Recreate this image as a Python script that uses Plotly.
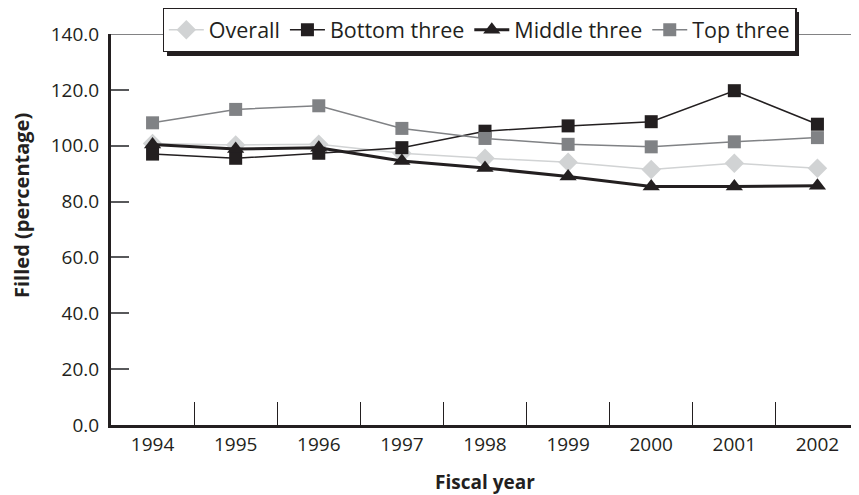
import plotly.graph_objects as go

# Data
years = ["1994", "1995", "1996", "1997", "1998", "1999", "2000", "2001", "2002"]
overall = [100.8, 100.3, 100.5, 97.3, 95.5, 94.1, 91.5, 93.7, 91.9]
bottom_three = [97.0, 95.5, 97.3, 99.3, 105.2, 107.1, 108.6, 119.7, 107.7]
middle_three = [100.4, 98.8, 99.3, 94.5, 92.0, 89.0, 85.4, 85.4, 85.7]
top_three = [108.2, 113.0, 114.3, 106.2, 102.6, 100.5, 99.6, 101.4, 102.9]
y_ticks = [0, 20, 40, 60, 80, 100, 120, 140]

FONT = "Open Sans"
INK = "#231f20"

series = [
    ("Overall", overall, "#d1d3d4", 1.5, "diamond", 15),
    ("Bottom three", bottom_three, INK, 1.5, "square", 13),
    ("Middle three", middle_three, INK, 3, "triangle-up", 15),
    ("Top three", top_three, "#808285", 1.5, "square", 13),
]

fig = go.Figure()
for name, vals, color, width, symbol, size in series:
    fig.add_trace(go.Scatter(
        x=years, y=vals, name=name, mode="lines+markers",
        line=dict(color=color, width=width),
        marker=dict(symbol=symbol, size=size, color=color, line=dict(width=0)),
    ))

# thin line along the top of the plot (140 level)
fig.add_shape(type="line", xref="paper", yref="y", x0=0, x1=1, y0=140, y1=140,
              line=dict(color="#58595b", width=1.5), layer="below")
# drop shadow behind the legend box
fig.add_shape(type="rect", xref="paper", yref="paper",
              x0=0.0749, x1=0.9198, y0=0.9437, y1=1.0563,
              fillcolor=INK, line=dict(width=0), layer="above")

# y title as annotation (it sits a bit above the middle of the axis)
fig.add_annotation(text="<b>Filled (percentage)</b>", textangle=-90,
                   xref="paper", yref="paper", x=-0.119, y=0.5627,
                   xanchor="center", yanchor="middle", showarrow=False,
                   font=dict(size=20))

# the page has an 8px body margin, so the figure is sized 8px short
fig.update_layout(
    width=851, height=487,
    margin=dict(l=103, r=0, t=26, b=70, autoexpand=False),
    paper_bgcolor="white", plot_bgcolor="white",
    font=dict(family=FONT, size=19, color=INK),
    legend=dict(
        orientation="h", x=0.069, xanchor="left", y=1.0665, yanchor="top",
        bgcolor="white", bordercolor=INK, borderwidth=1.2,
        font=dict(size=21.5), itemwidth=35, tracegroupgap=0,
    ),
    xaxis=dict(
        type="category", range=[-0.5, 8.5],
        showline=True, linecolor=INK, linewidth=3,
        ticks="inside", tickson="boundaries", ticklen=23, tickwidth=1.2, tickcolor=INK,
        showgrid=False, zeroline=False,
        title=dict(text="<b>Fiscal year</b>", font=dict(size=19), standoff=21),
    ),
    yaxis=dict(
        range=[0, 140], tickvals=y_ticks, tickformat=".1f",
        showline=True, linecolor=INK, linewidth=3,
        ticks="inside", ticklen=18, tickwidth=1.5, tickcolor="#58595b",
        ticklabelstandoff=5,
        showgrid=False, zeroline=False,
    ),
)

fig.write_html("out.html")
